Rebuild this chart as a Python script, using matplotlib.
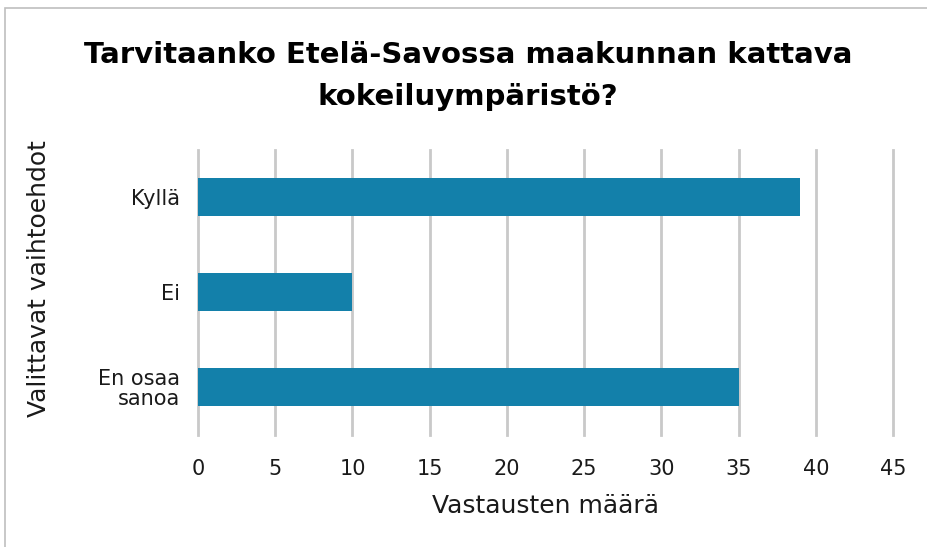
import matplotlib.pyplot as plt
from matplotlib.patches import Rectangle

categories = ["Kyllä", "Ei", "En osaa\nsanoa"]
values = [39, 10, 35]
x_ticks = [0, 5, 10, 15, 20, 25, 30, 35, 40, 45]

BAR_COLOR = '#1380AA'
GRID_COLOR = '#C9C9C9'

plt.rcParams['font.family'] = ['DejaVu Sans']

fig = plt.figure(figsize=(9.28, 5.47), dpi=100)
ax = fig.add_axes([0.2134, 0.2048, 0.7489, 0.5210])

y_pos = list(range(len(categories)))
ax.barh(y_pos, values, height=0.4, color=BAR_COLOR, zorder=3)

ax.set_ylim(len(categories) - 0.5, -0.5)
ax.set_xlim(0, 45)
ax.set_yticks(y_pos)
ax.set_yticklabels(categories, fontsize=15, linespacing=1.0, color='#1A1A1A')
ax.set_xticks(x_ticks)
ax.set_xticklabels([str(t) for t in x_ticks], fontsize=15, color='#1A1A1A')
ax.tick_params(length=0)
ax.tick_params(axis='x', pad=17)
ax.tick_params(axis='y', pad=13)

for t in x_ticks:
    ax.axvline(t, color=GRID_COLOR, linewidth=2, zorder=1, clip_on=False)
for s in ax.spines.values():
    s.set_visible(False)

ax.set_xlabel('Vastausten määrä', fontsize=18, labelpad=11, color='#1A1A1A')
fig.text(0.042, 0.49, 'Valittavat vaihtoehdot', rotation=90, fontsize=18,
         ha='center', va='center', color='#1A1A1A')

fig.text(0.504, 0.861, 'Tarvitaanko Etelä-Savossa maakunnan kattava\nkokeiluympäristö?',
         fontsize=21, fontweight='bold', ha='center', va='center', linespacing=1.6)

# outer chart border (left/top visible)
fig.patches.append(Rectangle((5 / 928, -0.05), 1.1, 1 - 8 / 547 + 0.05,
                             transform=fig.transFigure, fill=False,
                             edgecolor='#BFBFBF', linewidth=1.2))

fig.savefig('out.png', dpi=100)
